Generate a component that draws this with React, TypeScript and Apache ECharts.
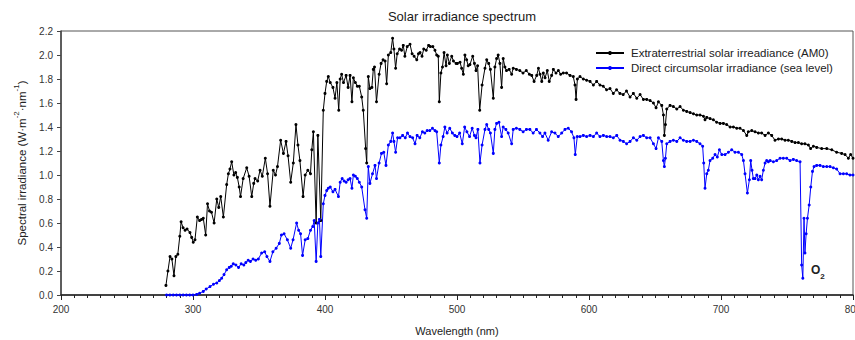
import React, { useEffect, useRef } from "react";
import * as echarts from "echarts";

const FONT = "'Liberation Sans', Arial, Helvetica, sans-serif";

const seriesNames = [
  "Extraterrestrial solar irreadiance (AM0)",
  "Direct circumsolar irradiance (sea level)",
];

const xTicks = [200, 300, 400, 500, 600, 700, 800];
const yTicks = [0, 0.2, 0.4, 0.6, 0.8, 1.0, 1.2, 1.4, 1.6, 1.8, 2.0, 2.2];

const am0Wavelength = [
  279.5, 281, 282.6, 284, 285.6, 287, 288.5, 290, 291, 292.5,
  294, 295.5, 297.7, 299, 300.2, 301.5, 303.3, 305, 306.5, 307.8,
  309.6, 311, 312.5, 314, 316, 318, 319.5, 321, 323, 325.5,
  326.8, 328, 329.3, 331, 332.3, 333.6, 335, 336, 338, 340.7,
  342.5, 344.5, 346, 347, 349, 350.8, 352.5, 354.8, 356.5, 358.3,
  360.8, 362.5, 364, 366.4, 368.5, 370.5, 372, 374, 376, 378,
  379.5, 381, 383.4, 385, 387, 389, 390, 391.2, 393.3, 394.6,
  396.8, 398.7, 400, 401.3, 402.5, 404, 406, 407.6, 409, 410.4,
  411.5, 412.6, 414, 416, 417.5, 419, 420.4, 421.5, 423, 424.5,
  426, 427.8, 429, 430.8, 431.6, 432.8, 434, 435.5, 436.6, 437.5,
  439, 441, 442.5, 444, 445.5, 446.7, 448, 449.8, 451.2, 452.2,
  453.5, 454.7, 456.5, 458, 459.3, 460.5, 462.3, 464.4, 466, 467.5,
  469.5, 470.8, 472, 473.5, 474.8, 476.7, 478.5, 479.8, 481.7, 483.3,
  484.6, 485.8, 486.6, 487.8, 489, 490.2, 491.7, 492.7, 494.2, 496,
  497.3, 499.3, 500.3, 502.3, 503.5, 504.8, 506, 507.3, 508.5, 509.8,
  511.9, 513.2, 514.4, 515.6, 517.2, 519, 521.2, 522.5, 524, 525.3,
  527.5, 528.7, 530, 531.2, 532.5, 533.8, 535, 536.3, 537.5, 539.5,
  541.4, 542.6, 545, 547.6, 550, 552.5, 554.8, 556.6, 558.4, 560.4,
  561.7, 562.9, 564.2, 565.4, 566.7, 568.4, 569.9, 571.7, 573, 575,
  576.8, 578.5, 580.5, 583, 585.6, 588.1, 589.4, 590.2, 591.2, 593.2,
  595.7, 598.2, 600.8, 603.3, 605.8, 608.3, 610.8, 613.3, 615.9, 618.4,
  620.9, 623.4, 625.9, 628.4, 631.1, 633.6, 636.2, 638.7, 641.2, 643.7,
  646.3, 648.8, 650.8, 652.6, 655.1, 656.4, 657.1, 657.9, 658.9, 661.4,
  663.9, 666.5, 669, 671.5, 674, 676.6, 679.1, 681.6, 684.1, 686.7,
  687.9, 689.2, 691.7, 694.2, 696.7, 699.3, 701.8, 704.3, 706.9, 709.4,
  711.9, 714.4, 717, 719.5, 720.7, 723.3, 725.8, 728.3, 730.8, 733.4,
  735.9, 738.4, 740.9, 743.5, 746, 748.5, 751, 753.6, 756.1, 758.6,
  761.1, 763.6, 766.2, 767.9, 770, 772.5, 776.3, 780.1, 783.9, 787.6,
  791.4, 794, 796.5, 798.2, 800,
];

const am0Irradiance = [
  0.08, 0.20, 0.32, 0.30, 0.16, 0.32, 0.34, 0.49, 0.61, 0.56,
  0.54, 0.55, 0.52, 0.48, 0.44, 0.46, 0.65, 0.62, 0.63, 0.64,
  0.50, 0.76, 0.70, 0.69, 0.60, 0.80, 0.73, 0.82, 0.65, 0.92,
  1.01, 1.05, 1.11, 1.00, 1.02, 0.98, 0.90, 0.82, 0.97, 1.06,
  0.99, 0.82, 0.93, 0.97, 0.95, 1.04, 0.99, 1.14, 1.01, 0.74,
  1.04, 1.00, 1.07, 1.29, 1.18, 1.28, 1.16, 0.94, 1.10, 1.42,
  1.25, 1.12, 0.82, 1.00, 1.04, 1.01, 1.21, 1.36, 0.60, 1.33,
  0.62, 1.54, 1.68, 1.78, 1.82, 1.77, 1.73, 1.64, 1.77, 1.54,
  1.80, 1.84, 1.77, 1.83, 1.73, 1.83, 1.61, 1.81, 1.77, 1.74,
  1.74, 1.65, 1.54, 1.22, 1.10, 1.82, 1.72, 1.73, 1.88, 1.90,
  1.61, 1.84, 1.93, 1.96, 1.95, 1.76, 2.00, 2.02, 2.14, 2.05,
  1.89, 2.01, 2.05, 2.04, 2.08, 1.99, 2.07, 2.09, 2.01, 1.99,
  1.96, 2.01, 2.02, 1.99, 2.05, 2.04, 2.08, 2.07, 2.07, 2.04,
  2.00, 1.99, 1.61, 1.85, 1.90, 2.02, 1.91, 2.00, 1.93, 1.99,
  1.95, 1.93, 1.93, 1.94, 1.89, 1.84, 2.00, 1.96, 1.91, 1.92,
  1.99, 1.93, 1.87, 1.91, 1.54, 1.75, 1.89, 1.96, 1.93, 1.88,
  1.64, 1.90, 1.97, 2.00, 1.93, 1.73, 1.97, 1.90, 1.87, 1.88,
  1.84, 1.89, 1.88, 1.87, 1.85, 1.87, 1.84, 1.83, 1.78, 1.83,
  1.89, 1.84, 1.78, 1.85, 1.81, 1.87, 1.78, 1.83, 1.88, 1.85,
  1.87, 1.84, 1.85, 1.85, 1.83, 1.82, 1.75, 1.63, 1.80, 1.82,
  1.80, 1.79, 1.78, 1.75, 1.78, 1.75, 1.74, 1.71, 1.72, 1.68,
  1.71, 1.68, 1.67, 1.70, 1.65, 1.68, 1.64, 1.67, 1.63, 1.63,
  1.62, 1.60, 1.56, 1.61, 1.58, 1.50, 1.33, 1.42, 1.55, 1.58,
  1.57, 1.55, 1.57, 1.54, 1.53, 1.52, 1.51, 1.50, 1.50, 1.49,
  1.46, 1.48, 1.47, 1.46, 1.44, 1.43, 1.43, 1.42, 1.40, 1.40,
  1.39, 1.39, 1.37, 1.33, 1.36, 1.37, 1.36, 1.35, 1.35, 1.33,
  1.35, 1.33, 1.29, 1.30, 1.30, 1.29, 1.29, 1.28, 1.27, 1.27,
  1.26, 1.26, 1.25, 1.22, 1.24, 1.23, 1.22, 1.22, 1.21, 1.19,
  1.18, 1.17, 1.14, 1.17, 1.14,
];

const directWavelength = [
  280, 282.5, 285, 287.5, 290, 292.5, 295, 297.5, 300, 302.8,
  305, 307.8, 310, 312.9, 315.5, 318, 320, 321.7, 323.5, 325.5,
  327.5, 329, 330.5, 332.5, 334.5, 336.5, 338.5, 340, 341.8, 343.5,
  345.5, 347.5, 349.5, 352, 354.3, 356, 358.3, 360.5, 363, 365.4,
  367, 369, 371.5, 374, 375.8, 378.5, 380, 381.5, 383, 385,
  387, 389, 390.7, 391.8, 393.3, 394.6, 395.8, 396.8, 398.7, 400,
  401.3, 402.5, 404, 406, 407.6, 410.2, 411.5, 413, 414.5, 416,
  417.5, 419, 420.4, 421.5, 423, 424.5, 426, 427.8, 430.3, 431.6,
  432.8, 434, 436, 437.9, 439, 441, 442.8, 444.5, 446.2, 448,
  449.8, 451.2, 452.2, 453.5, 455, 456.8, 458.8, 460.8, 462.5, 464.4,
  466.4, 468.2, 469.8, 471.8, 473.8, 475.6, 477.4, 479.4, 481.4, 483.3,
  484.6, 486.6, 487.8, 489.5, 490.8, 492.5, 494.5, 496.5, 498.3, 500,
  502, 504, 505.8, 507.5, 509.5, 511.5, 513.2, 514.4, 515.8, 517.4,
  519, 521.2, 522.5, 524, 525.3, 527.5, 528.7, 530, 531.8, 533.8,
  535, 537, 538.8, 541.4, 542.6, 545, 547.6, 550.1, 552.6, 555.2,
  557.7, 560.2, 562.8, 564.8, 566.6, 569.1, 571.7, 574.2, 576.7, 579.3,
  581.8, 584.3, 586.8, 588.6, 589.6, 591.1, 593.2, 595.7, 598.2, 600.8,
  603.3, 605.8, 608.3, 610.9, 613.4, 615.9, 618.4, 621, 623.5, 626,
  628.5, 631.1, 633.6, 636.2, 638.7, 641.2, 643.7, 646.3, 648.8, 650.8,
  652.6, 655.1, 656.4, 657.1, 657.9, 658.9, 661.4, 663.9, 666.5, 669,
  671.5, 674, 676.6, 679.1, 681.6, 684.1, 686.1, 686.9, 687.9, 689.2,
  690.4, 691.7, 693.7, 695.5, 697.2, 698.8, 700.6, 703.1, 705.6, 708.1,
  710.6, 713.2, 715.7, 717, 718.2, 720, 721.5, 722.5, 723.5, 724.5,
  725.8, 727.1, 728.3, 729.6, 730.8, 732.1, 733.4, 734.6, 735.9, 737.2,
  739.7, 742.2, 744.7, 747.2, 749.8, 752.3, 754.8, 757.3, 759.9, 761.1,
  762, 762.9, 763.6, 764.5, 765.5, 766.8, 768, 769.3, 770.5, 772.5,
  775, 777.5, 780.1, 782.6, 785.1, 787.6, 790.2, 792.7, 795.2, 797.7,
  800,
];

const directIrradiance = [
  0, 0, 0, 0, 0, 0, 0, 0, 0, 0.005,
  0.015, 0.03, 0.05, 0.07, 0.09, 0.10, 0.12, 0.14, 0.17, 0.21,
  0.23, 0.24, 0.26, 0.25, 0.23, 0.26, 0.25, 0.27, 0.29, 0.28,
  0.30, 0.29, 0.30, 0.35, 0.36, 0.32, 0.28, 0.36, 0.39, 0.43,
  0.50, 0.51, 0.46, 0.39, 0.46, 0.60, 0.54, 0.51, 0.33, 0.46,
  0.47, 0.54, 0.57, 0.62, 0.28, 0.60, 0.63, 0.32, 0.76, 0.83,
  0.87, 0.89, 0.90, 0.86, 0.88, 0.82, 0.94, 0.97, 0.95, 0.94,
  0.96, 0.97, 0.89, 1.00, 0.99, 0.97, 0.94, 0.90, 0.71, 0.64,
  1.07, 0.93, 1.01, 1.08, 0.97, 1.10, 1.18, 1.19, 1.08, 1.25,
  1.28, 1.35, 1.28, 1.19, 1.31, 1.31, 1.33, 1.31, 1.35, 1.32,
  1.31, 1.26, 1.33, 1.31, 1.36, 1.35, 1.37, 1.37, 1.39, 1.37,
  1.36, 1.10, 1.25, 1.32, 1.40, 1.35, 1.39, 1.35, 1.33, 1.32,
  1.35, 1.26, 1.40, 1.36, 1.32, 1.39, 1.33, 1.31, 1.38, 1.10,
  1.25, 1.38, 1.42, 1.38, 1.35, 1.18, 1.38, 1.43, 1.44, 1.32,
  1.40, 1.38, 1.35, 1.26, 1.38, 1.39, 1.38, 1.36, 1.38, 1.38,
  1.35, 1.38, 1.35, 1.32, 1.35, 1.29, 1.36, 1.35, 1.32, 1.35,
  1.38, 1.39, 1.36, 1.31, 1.17, 1.32, 1.32, 1.33, 1.32, 1.33,
  1.32, 1.35, 1.32, 1.33, 1.32, 1.32, 1.31, 1.33, 1.29, 1.28,
  1.26, 1.28, 1.31, 1.29, 1.32, 1.33, 1.31, 1.31, 1.26, 1.22,
  1.31, 1.28, 1.12, 1.07, 1.14, 1.26, 1.28, 1.29, 1.28, 1.31,
  1.29, 1.28, 1.28, 1.29, 1.28, 1.26, 1.24, 1.10, 0.89, 1.01,
  1.04, 1.12, 1.14, 1.17, 1.15, 1.21, 1.17, 1.17, 1.19, 1.21,
  1.19, 1.19, 1.17, 1.12, 1.01, 0.85, 0.96, 1.12, 1.04, 0.97,
  0.97, 1.00, 0.96, 0.99, 0.96, 1.04, 1.10, 1.12, 1.11, 1.12,
  1.11, 1.12, 1.14, 1.14, 1.14, 1.12, 1.13, 1.12, 1.11, 0.25,
  0.14, 0.64, 0.35, 0.51, 0.64, 0.75, 0.90, 1.03, 1.07, 1.08,
  1.08, 1.07, 1.07, 1.07, 1.06, 1.05, 1.01, 1.01, 1.01, 1.00,
  1.00,
];

function zip(xs: number[], ys: number[]) {
  const n = Math.min(xs.length, ys.length);
  const out: number[][] = [];
  for (let i = 0; i < n; i++) out.push([xs[i], ys[i]]);
  return out;
}

export default function App() {
  const ref = useRef<HTMLDivElement>(null);

  useEffect(() => {
    if (!ref.current) return;
    const chart = echarts.init(ref.current, null, { renderer: "svg" });
    const lineSeries = (name: string, color: string, data: number[][]) => ({
      name,
      type: "line",
      data,
      color,
      symbol: "circle",
      symbolSize: 3,
      showAllSymbol: true,
      lineStyle: { width: 1, color },
      itemStyle: { color },
      emphasis: { disabled: true },
      z: 3,
    });
    chart.setOption({
      animation: false,
      textStyle: { fontFamily: FONT },
      title: {
        text: "Solar irradiance spectrum",
        left: 457,
        top: 5,
        textAlign: "center",
        textStyle: { fontFamily: FONT, fontSize: 13, fontWeight: "normal", color: "#1a1a1a" },
      },
      legend: {
        data: seriesNames,
        orient: "vertical",
        left: 590,
        top: 42,
        itemWidth: 28,
        itemHeight: 5,
        itemGap: 3,
        itemStyle: { borderWidth: 0 },
        textStyle: { fontFamily: FONT, fontSize: 11.5, color: "#222", padding: [0, 0, 0, 2] },
      },
      grid: {
        left: 61,
        right: 2,
        top: 31,
        bottom: 45,
        show: true,
        borderColor: "#555",
        borderWidth: 1,
        containLabel: false,
        outerBoundsMode: "none",
      },
      xAxis: {
        type: "value",
        min: xTicks[0],
        max: xTicks[xTicks.length - 1],
        interval: 100,
        name: "Wavelength (nm)",
        nameLocation: "middle",
        nameGap: 30,
        nameTextStyle: { fontFamily: FONT, fontSize: 11, color: "#222" },
        axisLine: { show: true, lineStyle: { color: "#222", width: 1.5 } },
        axisTick: { show: true, length: 5, lineStyle: { color: "#222" } },
        minorTick: { show: true, splitNumber: 10, length: 3, lineStyle: { color: "#222" } },
        axisLabel: { fontFamily: FONT, fontSize: 10, color: "#333", margin: 9 },
        splitLine: { show: false },
      },
      yAxis: {
        type: "value",
        min: yTicks[0],
        max: yTicks[yTicks.length - 1],
        interval: 0.2,
        name: "{a|Spectral irradiance (W·m}{s|-2}{a|·nm}{s|-1}{a|)}",
        nameLocation: "middle",
        nameGap: 30,
        nameRotate: 90,
        nameTextStyle: {
          fontFamily: FONT,
          rich: {
            a: { fontFamily: FONT, fontSize: 11.5, color: "#222", lineHeight: 16, verticalAlign: "bottom" },
            s: { fontFamily: FONT, fontSize: 8, color: "#222", lineHeight: 16, verticalAlign: "top" },
          },
        },
        axisLine: { show: true, lineStyle: { color: "#444", width: 1.5 } },
        axisTick: { show: true, length: 4, lineStyle: { color: "#444" } },
        axisLabel: {
          fontFamily: FONT,
          fontSize: 10,
          color: "#333",
          margin: 8,
          formatter: (v: number) => v.toFixed(1),
        },
        splitLine: { show: false },
      },
      graphic: [
        {
          type: "text",
          left: 811,
          top: 264,
          style: {
            text: "{o|O}{t|2}",
            rich: {
              o: { fontFamily: FONT, fontSize: 12, fontWeight: "bold", fill: "#222", lineHeight: 16, verticalAlign: "top" },
              t: { fontFamily: FONT, fontSize: 8, fontWeight: "bold", fill: "#222", lineHeight: 16, verticalAlign: "bottom" },
            },
          },
        },
      ],
      series: [
        lineSeries(seriesNames[0], "#000000", zip(am0Wavelength, am0Irradiance)),
        lineSeries(seriesNames[1], "#0000ff", zip(directWavelength, directIrradiance)),
      ],
    });
    return () => chart.dispose();
  }, []);

  return (
    <div
      ref={ref}
      style={{ position: "fixed", left: 0, top: 0, width: 855, height: 340, background: "#fff" }}
    />
  );
}
